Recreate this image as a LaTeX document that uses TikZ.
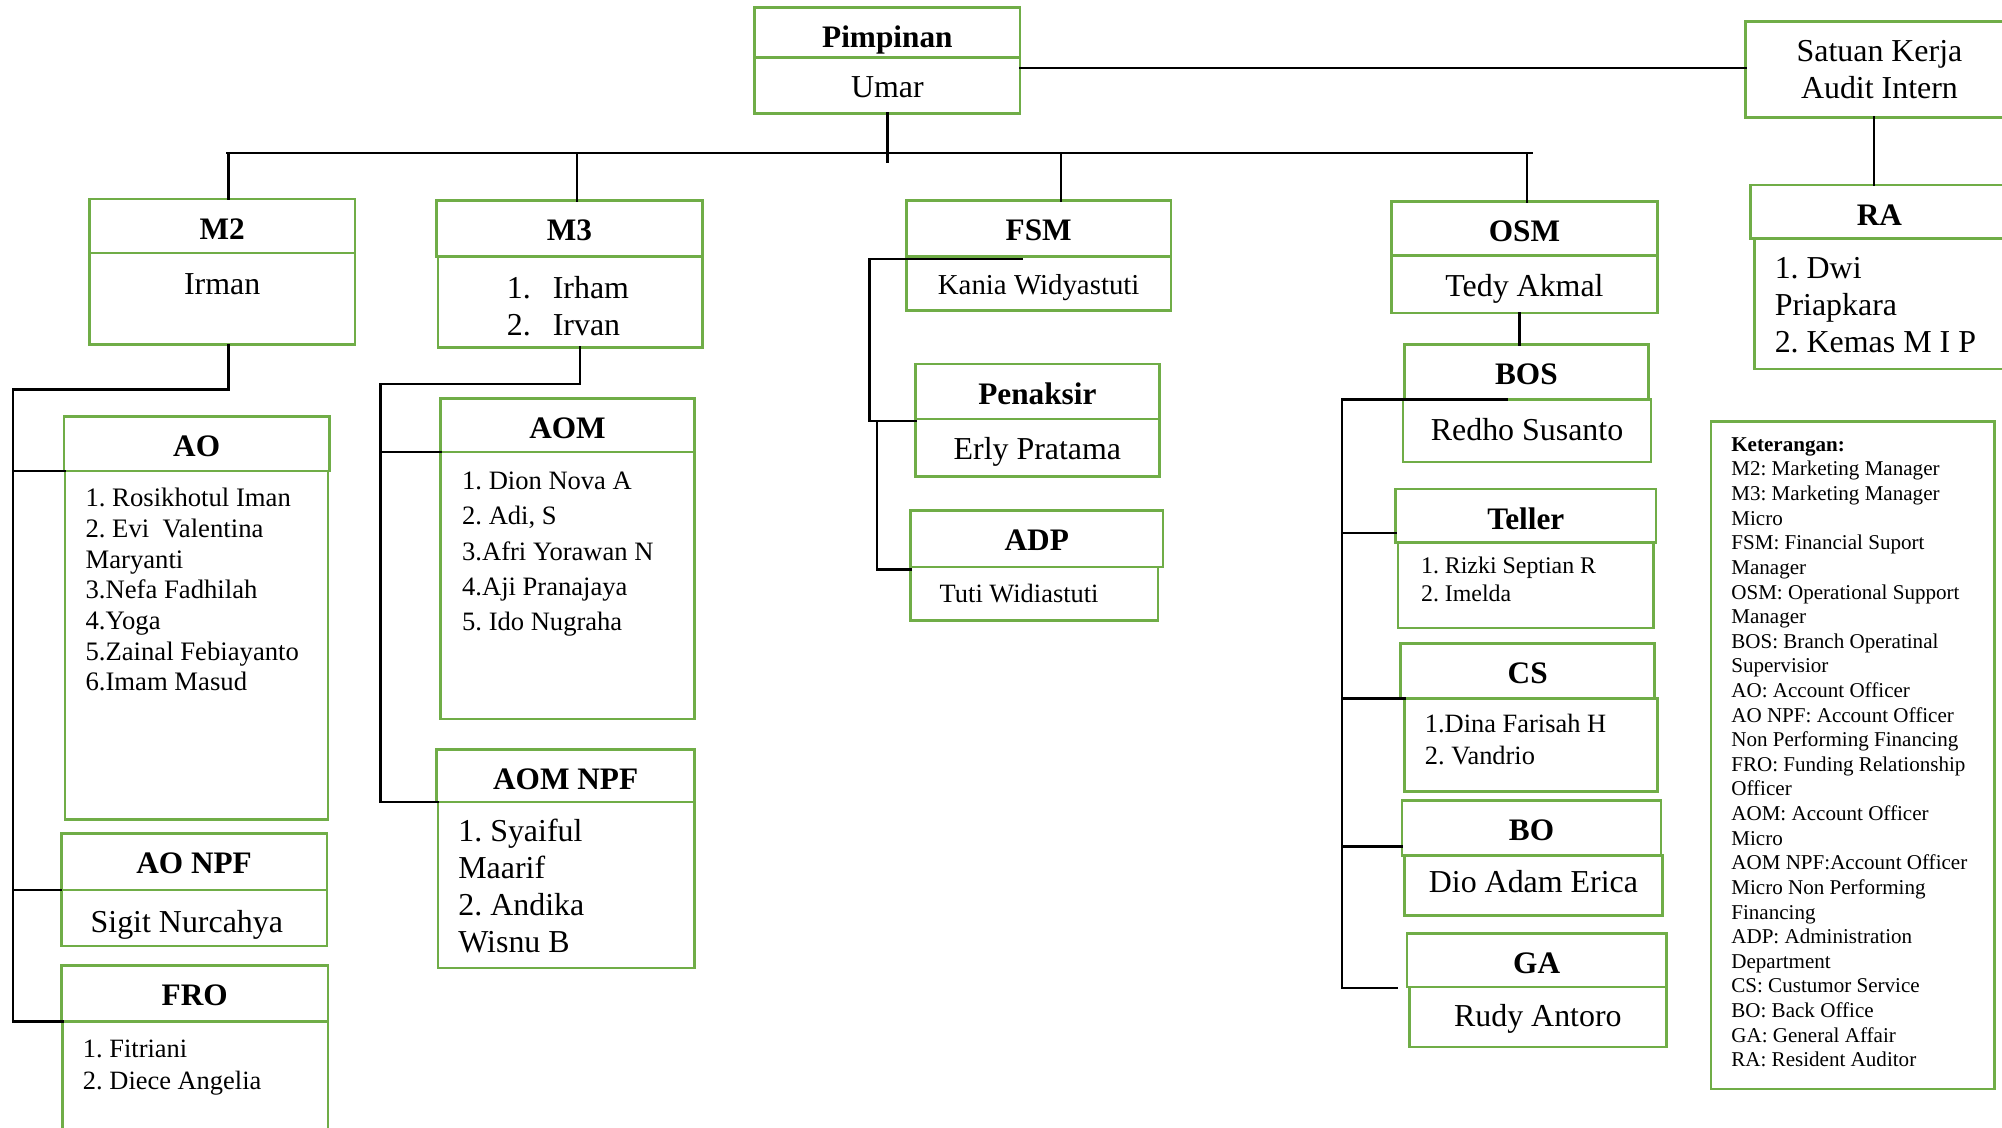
\documentclass[tikz,border=0pt]{standalone}
\usepackage{fontspec}
\setmainfont{Liberation Serif}
\usetikzlibrary{calc}
\definecolor{ogreen}{RGB}{112,173,71}
\newcommand\HB[3]{\parbox[t][#2pt][t]{#1pt}{\frenchspacing\centering\leftskip=-50pt plus 1fil\rightskip=-50pt plus 1fil\rule{0pt}{31.5pt}#3}}
\newcommand\CB[4]{\parbox[t][#2pt][t]{#1pt}{\frenchspacing\centering\leftskip=-50pt plus 1fil\rightskip=-50pt plus 1fil\rule{0pt}{#3pt}#4}}
\newcommand\LB[5]{\parbox[t][#2pt][t]{#1pt}{\frenchspacing\raggedright\leftskip=#4pt\rightskip=-100pt plus 1fil\rule{0pt}{#3pt}#5}}
\tikzset{
  gbox/.style={draw=ogreen, line width=2pt, inner sep=0pt, outer sep=0pt, anchor=north west, fill=white},
  hdr/.style={gbox, font=\fontsize{24.5}{28}\selectfont\bfseries},
  fA/.style={font=\fontsize{25}{29}\selectfont},
  fK/.style={font=\fontsize{22.6}{26}\selectfont},
  fT/.style={font=\fontsize{20.7}{25}\selectfont},
  fAO/.style={font=\fontsize{20.9}{24}\selectfont},
  fAOM/.style={font=\fontsize{20.8}{27.8}\selectfont},
  fTel/.style={font=\fontsize{18.7}{22}\selectfont},
  fKet/.style={font=\fontsize{16.5}{19.28}\selectfont},
  conn/.style={draw=black, line width=1.8pt, line cap=rect, line join=miter}
}
\begin{document}
\begin{tikzpicture}[x=1pt,y=-1pt]
\useasboundingbox (0,0) rectangle (1568,883);
\fill[white] (0,0) rectangle (1568,883);
% top
\node[hdr] (pimh) at (591,6) {\HB{208}{39}{Pimpinan}};
\node[gbox,fA] (pimb) at (591,45) {\CB{208}{44}{31}{Umar}};
\node[gbox,fA] (sat) at (1367,17) {\CB{210}{75}{31}{Satuan Kerja\\Audit Intern}};
\node[hdr] (rah) at (1371,145) {\HB{202}{42}{RA}};
\node[gbox,fA] (rab) at (1374,187) {\LB{200}{102}{31}{16}{1. Dwi\\Priapkara\\2. Kemas M I P}};
% managers
\node[hdr] (m2h) at (70,156) {\HB{208}{42}{M2}};
\node[gbox,fA] (m2b) at (70,198) {\CB{208}{72}{33}{Irman}};
\node[hdr] (m3h) at (342,157) {\HB{208}{44}{M3}};
\node[gbox,fA] (m3b) at (343,201) {\LB{207}{71}{33}{54}{\makebox[36pt][l]{1.}Irham\\\makebox[36pt][l]{2.}Irvan}};
\node[hdr] (fsmh) at (710,157) {\HB{207}{44}{FSM}};
\node[gbox,fK] (fsmb) at (710,201) {\CB{207}{42}{29.5}{Kania Widyastuti}};
\node[hdr] (osmh) at (1090,158) {\HB{208}{42}{OSM}};
\node[gbox,fA] (osmb) at (1090,200) {\CB{208}{45}{32}{Tedy Akmal}};
% FSM branch
\node[hdr] (penh) at (717,285) {\HB{191}{43}{Penaksir}};
\node[gbox,fA] (penb) at (717,328) {\CB{191}{45}{32}{Erly Pratama}};
\node[hdr] (adph) at (713,400) {\HB{198}{44}{ADP}};
\node[gbox,fT] (adpb) at (713,444) {\LB{194}{42}{28}{23}{Tuti Widiastuti}};
% M2 branch
\node[hdr] (aoh) at (50,326) {\HB{208}{43}{AO}};
\node[gbox,fAO] (aob) at (51,369) {\LB{206}{273}{28}{16}{1. Rosikhotul Iman\\2. Evi~~Valentina\\Maryanti\\3.Nefa Fadhilah\\4.Yoga\\5.Zainal Febiayanto\\6.Imam Masud}};
\node[hdr] (aonh) at (48,653) {\HB{208}{44}{AO NPF}};
\node[gbox,fA] (aonb) at (48,697) {\LB{208}{44}{33}{23}{Sigit Nurcahya}};
\node[hdr] (froh) at (48,756) {\HB{209}{44}{FRO}};
\node[gbox,fT] (frob) at (49,800) {\LB{208}{100}{28}{16}{1. Fitriani\\2. Diece Angelia}};
% M3 branch
\node[hdr] (aomh) at (345,312) {\HB{199}{42}{AOM}};
\node[gbox,fAOM] (aomb) at (345,354) {\LB{199}{209}{29}{17}{1. Dion Nova A\\2. Adi, S\\3.Afri Yorawan N\\4.Aji Pranajaya\\5. Ido Nugraha}};
\node[hdr] (aompnh) at (342,587) {\HB{202}{41}{AOM NPF}};
\node[gbox,fA] (aompnb) at (343,628) {\LB{201}{130}{31}{16}{1. Syaiful\\Maarif\\2. Andika\\Wisnu B}};
% OSM branch
\node[hdr] (bosh) at (1100,270) {\HB{191}{43}{BOS}};
\node[gbox,fA] (bosb) at (1099,313) {\CB{194}{49}{32}{Redho Susanto}};
\node[hdr] (telh) at (1093,383) {\HB{204}{42}{Teller}};
\node[gbox,fTel] (telb) at (1095,425) {\LB{200}{67}{24}{18}{1. Rizki Septian R\\2. Imelda}};
\node[hdr] (csh) at (1097,504) {\HB{199}{43}{CS}};
\node[gbox,fT] (csb) at (1100,547) {\LB{198}{73}{27}{16}{1.Dina Farisah H\\2. Vandrio}};
\node[hdr] (boh) at (1098,627) {\HB{203}{43}{BO}};
\node[gbox,fA] (bob) at (1100,670) {\CB{202}{47}{29}{Dio Adam Erica}};
\node[hdr] (gah) at (1102,731) {\HB{203}{42}{GA}};
\node[gbox,fA] (gab) at (1104,773) {\CB{201}{47}{31}{Rudy Antoro}};
% legend
\node[gbox,fKet] (ket) at (1340,330) {\LB{222}{523}{23.5}{16}{\textbf{Keterangan:}\\M2: Marketing Manager\\M3: Marketing Manager\\Micro\\FSM: Financial Suport\\Manager\\OSM: Operational Support\\Manager\\BOS: Branch Operatinal\\Supervisior\\AO: Account Officer\\AO NPF: Account Officer\\Non Performing Financing\\FRO: Funding Relationship\\Officer\\AOM: Account Officer\\Micro\\AOM NPF:Account Officer\\Micro Non Performing\\Financing\\ADP: Administration\\Department\\CS: Custumor Service\\BO: Back Office\\GA: General Affair\\RA: Resident Auditor}};
% connectors
\coordinate (busL) at (178,120);
\coordinate (busR) at (1200,120);
\draw[conn] (pimb.south) -- ++(0,38);
\draw[conn] (busL) -- (busR);
\coordinate (d1) at (179,120);
\coordinate (d2) at (452,120);
\coordinate (d3) at (831,120);
\coordinate (d4) at (1196,120);
\draw[conn] (d1) -- (d1 |- m2h.north);
\draw[conn] (d2) -- (d2 |- m3h.north);
\draw[conn] (d3) -- (d3 |- fsmh.north);
\draw[conn] (d4) -- (d4 |- osmh.north);
\draw[conn] (pimb.east |- 0,53) -- (sat.west |- 0,53);
\draw[conn] (sat.south -| 1468,0) -- (1468,0 |- rah.north);
% M2 tree
\coordinate (m2e) at (10,305);
\draw[conn] (m2b.south -| d1) -- (d1 |- m2e) -- (m2e) -- (m2e |- frob.north);
\draw[conn] (m2e |- aob.north) -- (aob.north west);
\draw[conn] (m2e |- aonb.north) -- (aonb.north west);
\draw[conn] (m2e |- frob.north) -- (frob.north west);
% M3 tree
\coordinate (m3x) at (454,301);
\coordinate (m3e) at (298,301);
\draw[conn] (m3b.south -| m3x) -- (m3x) -- (m3e) -- (m3e |- aompnb.north);
\draw[conn] (m3e |- aomb.north) -- (aomb.north west);
\draw[conn] (m3e |- aompnb.north) -- (aompnb.north west);
% FSM tree
\coordinate (fx) at (800,203);
\coordinate (fe) at (681,203);
\coordinate (fe2) at (687,330);
\coordinate (pb) at ($(penh.south west)+(0,2)$);
\coordinate (ab) at ($(adph.south west)+(0,2)$);
\draw[conn] (fx) -- (fe) -- (fe |- pb) -- (pb);
\draw[conn] (fe2 |- pb) -- (fe2 |- ab) -- (ab);
% OSM tree
\draw[conn] (osmb.south -| 1190,0) -- (1190,0 |- bosh.north);
\coordinate (bx) at (1180,313);
\coordinate (be) at (1051,313);
\coordinate (tb) at ($(telh.south west)+(0,-7.5)$);
\coordinate (bb) at ($(boh.south west)+(0,-7)$);
\coordinate (gb) at ($(gah.south west)+(-8,1)$);
\draw[conn] (bx) -- (be) -- (be |- gb) -- (gb);
\draw[conn] (be |- tb) -- (tb);
\draw[conn] (be |- csb.north) -- (csb.north west);
\draw[conn] (be |- bb) -- (bb);
\end{tikzpicture}
\end{document}
